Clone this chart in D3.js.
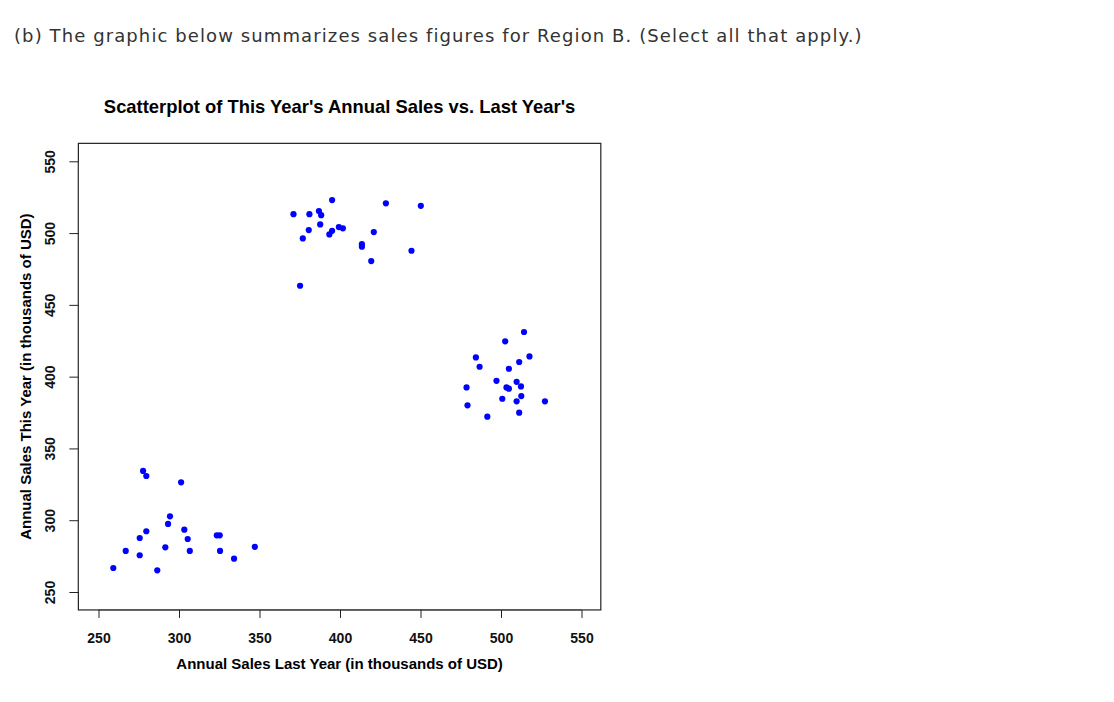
<!DOCTYPE html>
<html>
<head>
<meta charset="utf-8">
<script src="https://cdn.jsdelivr.net/npm/d3@7"></script>
<style>
  body { margin: 0; background: #fff; }
  svg { display: block; }
</style>
</head>
<body>
<svg id="chart" width="1114" height="702"></svg>
<script>
const lastYear = [
  371.1, 381.0, 395.1, 386.9, 388.3, 387.7, 380.6, 376.9, 395.1, 393.4,
  399.3, 401.8, 413.6, 413.6, 421.0, 428.5, 450.2, 444.4, 419.4, 375.2,
  514.3, 502.6, 484.4, 517.7, 511.3, 486.7, 504.9, 497.2, 509.7, 512.4,
  503.4, 504.9, 478.6, 512.6, 500.8, 509.7, 527.3, 479.2, 491.5, 511.3,
  277.7, 279.7, 301.3, 294.4, 293.2, 279.7, 303.3, 275.6, 305.4, 323.5,
  325.3, 266.9, 291.5, 306.7, 325.5, 275.6, 347.1, 334.2, 259.2, 286.5
];
const thisYear = [
  513.2, 513.2, 523.0, 515.3, 512.5, 506.0, 502.1, 496.3, 501.6, 499.1,
  504.2, 503.3, 492.3, 490.5, 500.7, 520.7, 519.0, 487.7, 480.5, 463.3,
  431.1, 424.6, 413.4, 414.1, 410.2, 406.9, 405.5, 397.1, 396.4, 393.2,
  392.5, 391.6, 392.5, 386.5, 384.6, 382.8, 382.8, 380.0, 372.1, 374.9,
  334.3, 330.8, 326.4, 302.7, 297.4, 292.3, 293.4, 287.6, 286.9, 289.5,
  289.5, 278.6, 281.1, 278.6, 278.6, 275.6, 281.5, 273.2, 266.7, 265.1
];
const xTicks = [250, 300, 350, 400, 450, 500, 550];
const yTicks = [250, 300, 350, 400, 450, 500, 550];

const heading = "(b) The graphic below summarizes sales figures for Region B. (Select all that apply.)";
const title = "Scatterplot of This Year's Annual Sales vs. Last Year's";
const xTitle = "Annual Sales Last Year (in thousands of USD)";
const yTitle = "Annual Sales This Year (in thousands of USD)";

const svg = d3.select("#chart");
const x = d3.scaleLinear().domain([250, 550]).range([98.5, 581.5]);
const y = d3.scaleLinear().domain([250, 550]).range([592, 161.3]);
const x0 = x(237.5), x1 = x(562), y0 = y(237.5), y1 = y(562.5);

svg.append("text")
  .attr("x", 14).attr("y", 42)
  .attr("font-family", "DejaVu Sans, Verdana, sans-serif")
  .attr("font-size", 18)
  .attr("letter-spacing", 1.1)
  .attr("fill", "#333")
  .text(heading);

svg.append("text")
  .attr("x", (x0 + x1) / 2).attr("y", 113)
  .attr("text-anchor", "middle")
  .attr("font-family", "Liberation Sans, Arial, sans-serif")
  .attr("font-weight", "bold")
  .attr("font-size", 18.4)
  .attr("fill", "#000")
  .text(title);

// box
svg.append("rect")
  .attr("x", x0).attr("y", y1)
  .attr("width", x1 - x0).attr("height", y0 - y1)
  .attr("fill", "none").attr("stroke", "#222").attr("stroke-width", 1.2);

const font = "Liberation Sans, Arial, sans-serif";

// x axis
const gx = svg.append("g").attr("transform", `translate(0,${y0})`);
gx.call(d3.axisBottom(x).tickValues(xTicks).tickSize(8).tickPadding(15).tickFormat(d3.format("d")));
gx.select(".domain").attr("stroke", "#444").attr("d", `M${x(250)},0H${x(550)}`);
gx.selectAll(".tick line").attr("stroke", "#222");
gx.selectAll(".tick text")
  .attr("font-family", font).attr("font-weight", "bold").attr("font-size", 14).attr("fill", "#111");

// y axis
const gy = svg.append("g").attr("transform", `translate(${x0},0)`);
gy.call(d3.axisLeft(y).tickValues(yTicks).tickSize(9).tickFormat(d3.format("d")));
gy.select(".domain").attr("stroke", "#444").attr("d", `M0,${y(250)}V${y(550)}`);
gy.selectAll(".tick line").attr("stroke", "#222");
gy.selectAll(".tick text")
  .attr("x", 0).attr("dy", 0)
  .attr("transform", "translate(-23,0) rotate(-90)")
  .attr("text-anchor", "middle")
  .attr("font-family", font).attr("font-weight", "bold").attr("font-size", 14).attr("fill", "#111");

svg.append("text")
  .attr("x", (x0 + x1) / 2).attr("y", 669)
  .attr("text-anchor", "middle")
  .attr("font-family", font).attr("font-weight", "bold").attr("font-size", 15)
  .text(xTitle);

svg.append("text")
  .attr("transform", `translate(31,${(y0 + y1) / 2}) rotate(-90)`)
  .attr("text-anchor", "middle")
  .attr("font-family", font).attr("font-weight", "bold").attr("font-size", 15)
  .text(yTitle);

svg.append("g").selectAll("circle")
  .data(lastYear.map((d, i) => [d, thisYear[i]]))
  .join("circle")
  .attr("cx", d => x(d[0]))
  .attr("cy", d => y(d[1]))
  .attr("r", 3.1)
  .attr("fill", "#0000ff");
</script>
</body>
</html>
